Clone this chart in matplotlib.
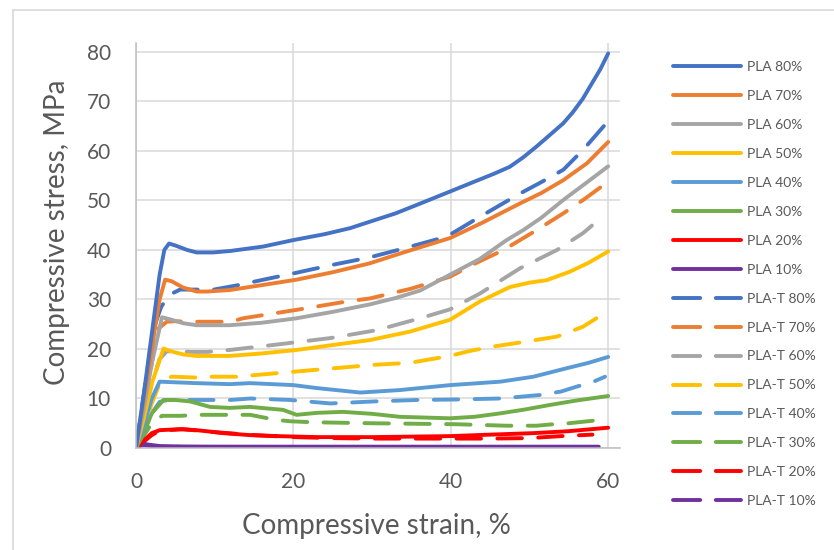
import numpy as np
import matplotlib
matplotlib.use("Agg")
import matplotlib.pyplot as plt
from matplotlib.lines import Line2D

plt.rcParams['font.family'] = ['Lato', 'DejaVu Sans']

# 应变 / 应力 曲线数据
pla80_x = [0, 1.0, 2.0, 3.0, 3.6, 4.2, 5.0, 6.5, 7.7, 9.8, 12, 16.2, 20, 24, 27.2, 29.7, 33, 36, 39.9, 43, 45.5, 47.5, 49.2, 50.9, 52.5, 54.3, 55.5, 56.8, 57.5, 59, 60]
pla80_y = [0, 11, 23, 35, 40, 41.3, 40.9, 40.0, 39.5, 39.5, 39.8, 40.7, 42, 43.2, 44.4, 45.7, 47.4, 49.3, 51.8, 53.8, 55.4, 56.8, 58.7, 60.9, 63.1, 65.6, 67.8, 70.6, 72.5, 76.5, 79.7]
pla70_x = [0, 1.0, 2.0, 3.0, 3.7, 4.5, 6, 7.7, 9, 11.9, 16, 20.4, 25, 29.7, 34, 39.9, 44, 48.8, 51.5, 54.3, 57.3, 60]
pla70_y = [0, 10, 20, 30, 34, 33.7, 32.4, 31.6, 31.6, 31.9, 32.9, 34, 35.5, 37.3, 39.5, 42.4, 45.5, 49.4, 51.5, 54.1, 57.5, 61.8]
pla60_x = [0, 1.0, 2.0, 3.3, 4.3, 6, 7.7, 11.9, 16, 20.4, 25, 29.7, 33, 36.1, 39.9, 43.7, 47.1, 49.2, 51.5, 54.3, 57, 60]
pla60_y = [0, 8, 17, 26.4, 26.0, 25.2, 24.8, 24.8, 25.3, 26.2, 27.5, 29.0, 30.3, 31.8, 35, 38.2, 42, 44, 46.5, 50.1, 53.3, 56.9]
pla50_x = [0, 1.0, 2.0, 3.5, 4.5, 6, 7.7, 11.9, 16, 20.4, 25, 29.7, 34.8, 39.9, 43.7, 47.5, 50, 52.2, 55.1, 57.5, 60]
pla50_y = [0, 6, 13, 20.1, 19.5, 18.9, 18.6, 18.6, 19.1, 19.8, 20.8, 21.8, 23.5, 25.9, 29.6, 32.5, 33.4, 33.9, 35.6, 37.4, 39.7]
pla40_x = [0, 1.0, 2.0, 3.0, 4.5, 7.7, 11.9, 14.5, 20, 23, 28.5, 33.5, 39.9, 46.3, 50.5, 54.7, 57.5, 60]
pla40_y = [0, 4.5, 10, 13.4, 13.3, 13.1, 12.9, 13.1, 12.7, 12.1, 11.2, 11.7, 12.7, 13.4, 14.4, 16.1, 17.2, 18.4]
pla30_x = [0, 1.0, 2.0, 3.5, 5, 6.9, 9.4, 11.9, 14.5, 18.7, 20.4, 23, 26.3, 30, 33.5, 39.9, 43, 46.3, 49.5, 52.6, 56, 60]
pla30_y = [0, 3, 7, 9.7, 9.7, 9.4, 8.3, 8.1, 8.3, 7.7, 6.7, 7.1, 7.3, 6.9, 6.3, 6.0, 6.3, 7.0, 7.8, 8.7, 9.6, 10.5]
pla20_x = [0, 1.0, 2.0, 3.0, 5.6, 7.7, 9.5, 11.1, 14.5, 18, 23, 30, 39.9, 45, 50.5, 55, 60]
pla20_y = [0, 1.5, 3.0, 3.6, 3.8, 3.6, 3.3, 3.0, 2.6, 2.4, 2.2, 2.2, 2.4, 2.7, 3.0, 3.4, 4.1]
pla10_x = [0, 0.5, 0.9, 1.5, 3, 6, 10, 20, 30, 40, 50, 58.8]
pla10_y = [0, 0.6, 0.9, 0.7, 0.4, 0.3, 0.28, 0.27, 0.27, 0.27, 0.27, 0.27]

plat80_x = [0, 1.0, 2.2, 3.2, 4.2, 5.6, 7, 9.9, 13, 16.2, 20.4, 22.1, 25, 29.7, 34, 39.5, 43.7, 48.8, 51.5, 54.3, 56.8, 59.6]
plat80_y = [0, 11, 24, 28.5, 30.9, 32.0, 32.0, 32.0, 32.9, 34, 35.4, 36.0, 37, 38.5, 40.3, 42.7, 46.7, 51.4, 53.7, 56.2, 60.2, 65.3]
plat70_x = [0, 1.0, 2.0, 2.6, 3.9, 5, 7, 12, 13.6, 20.4, 26.8, 29.7, 35, 39.9, 43, 46.7, 50.9, 54.3, 57, 60]
plat70_y = [0, 8, 17, 23.8, 25.5, 25.6, 25.5, 25.5, 26.2, 27.9, 29.6, 30.2, 32.2, 34.6, 37.2, 40, 44, 47.4, 50.3, 53.8]
plat60_x = [0, 1.0, 2.0, 3.0, 3.9, 5, 7, 9, 11.9, 17.4, 24.7, 30.6, 36.1, 39.9, 43.7, 48.8, 53.5, 56.8, 59.4]
plat60_y = [0, 6, 13, 18, 19.5, 19.6, 19.4, 19.4, 19.8, 20.8, 22.2, 23.8, 26.2, 28.0, 31.2, 36.3, 40, 43.4, 46.9]
plat50_x = [0, 1.0, 2.0, 3.0, 4.5, 8.1, 9.6, 12.7, 14.9, 20, 25.1, 30.2, 34.8, 39.9, 42.4, 45.4, 49.6, 53.5, 56.8, 59.8]
plat50_y = [0, 4, 9, 13, 14.4, 14.2, 14.4, 14.4, 14.7, 15.4, 16.1, 16.8, 17.2, 18.6, 19.6, 20.5, 21.5, 22.5, 24.5, 27.5]
plat40_x = [0, 1.0, 2.0, 3.0, 4.0, 8, 12, 14.5, 19.6, 24.7, 30.2, 35.7, 40.7, 46.3, 51.3, 54, 56, 58, 59.6]
plat40_y = [0, 3, 7, 9.3, 9.7, 9.7, 9.7, 10, 9.7, 9.0, 9.4, 9.7, 9.8, 10.0, 10.7, 11.4, 12.4, 13.3, 14.4]
plat30_x = [0, 1.0, 2.0, 3.3, 5.6, 8.5, 12.3, 14.5, 17.7, 19.6, 22.4, 30, 40.7, 47.1, 50.9, 53, 55, 58, 60]
plat30_y = [0, 2.5, 5, 6.5, 6.5, 6.7, 6.7, 6.7, 5.7, 5.4, 5.2, 5.0, 4.8, 4.5, 4.5, 4.8, 5.0, 5.5, 6.1]
plat20_x = [0, 1.0, 2.0, 3.0, 6, 10, 15, 20, 25, 30, 35, 40, 45, 50, 54, 58]
plat20_y = [0, 1.3, 2.6, 3.5, 3.8, 3.2, 2.6, 2.2, 2.0, 1.9, 1.9, 1.9, 1.9, 2.0, 2.4, 2.7]
plat10_x = [0, 0.5, 1.0, 2, 4, 10, 20, 30, 40, 50, 58]
plat10_y = [0, 0.4, 0.6, 0.4, 0.25, 0.2, 0.2, 0.2, 0.2, 0.2, 0.2]

labels = ["PLA 80%", "PLA 70%", "PLA 60%", "PLA 50%", "PLA 40%", "PLA 30%", "PLA 20%", "PLA 10%",
          "PLA-T 80%", "PLA-T 70%", "PLA-T 60%", "PLA-T 50%", "PLA-T 40%", "PLA-T 30%", "PLA-T 20%", "PLA-T 10%"]
series = [(pla80_x, pla80_y), (pla70_x, pla70_y), (pla60_x, pla60_y), (pla50_x, pla50_y),
          (pla40_x, pla40_y), (pla30_x, pla30_y), (pla20_x, pla20_y), (pla10_x, pla10_y),
          (plat80_x, plat80_y), (plat70_x, plat70_y), (plat60_x, plat60_y), (plat50_x, plat50_y),
          (plat40_x, plat40_y), (plat30_x, plat30_y), (plat20_x, plat20_y), (plat10_x, plat10_y)]

# Excel Office 默认配色
colors = ['#4472C4', '#ED7D31', '#A5A5A5', '#FFC000', '#5B9BD5', '#70AD47', '#FF0000', '#7030A0']
txt_color = '#595959'
lw = 2.8
dash = (6.3, 4.2)

fig = plt.figure(figsize=(8.34, 5.5), dpi=100)
ax = fig.add_axes([136 / 834, 1 - 448 / 550, 484 / 834, 405 / 550])

# 先画虚线，再画实线（倒序，使高含量曲线在上层）
order = list(range(15, 7, -1)) + list(range(7, -1, -1))
for i in order:
    xs, ys = series[i]
    c = colors[i % 8]
    if i >= 8:
        ax.plot(xs, ys, color=c, lw=lw, dashes=dash, dash_capstyle='round',
                solid_capstyle='round', solid_joinstyle='round')
    else:
        ax.plot(xs, ys, color=c, lw=lw, solid_capstyle='round', solid_joinstyle='round')

ax.set_xlim(0, 61.5)
ax.set_ylim(0, 81.8)
ax.set_xticks([0, 20, 40, 60])
ax.set_yticks(np.arange(0, 81, 10))
ax.grid(True, color='#D9D9D9', lw=1.1)
ax.set_axisbelow(True)
for s in ['top', 'right']:
    ax.spines[s].set_visible(False)
for s in ['left', 'bottom']:
    ax.spines[s].set_color('#BFBFBF')
    ax.spines[s].set_linewidth(1.1)
ax.tick_params(length=0, labelsize=15, colors=txt_color)
ax.tick_params(axis='y', pad=18)
ax.tick_params(axis='x', pad=17)

# 坐标轴标题：用图像坐标定位中心
ax.set_xlabel("Compressive strain, %", fontsize=20, color=txt_color, va='center')
ax.set_ylabel("Compressive stress, MPa", fontsize=20, color=txt_color, va='center')
ax.xaxis.set_label_coords(376 / 834, 1 - 526 / 550, transform=fig.transFigure)
ax.yaxis.set_label_coords(57 / 834, 1 - 232 / 550, transform=fig.transFigure)

# 图例（代理句柄）
handles = []
for i in range(16):
    if i >= 8:
        h = Line2D([], [], color=colors[i % 8], lw=lw, dashes=(7.0, 4.0), dash_capstyle='round')
    else:
        h = Line2D([], [], color=colors[i % 8], lw=lw, solid_capstyle='round')
    handles.append(h)
leg = fig.legend(handles, labels, loc='upper left', bbox_to_anchor=(673 / 834, 1 - 61 / 550),
                 frameon=False, fontsize=10, handlelength=4.9, handletextpad=0.45,
                 labelspacing=1.22, borderaxespad=0, borderpad=0)
for t in leg.get_texts():
    t.set_color(txt_color)

# 图表外框（只见左边和上边）
fig.add_artist(Line2D([13 / 834, 13 / 834], [0, 1 - 10 / 550], transform=fig.transFigure, color='#D9D9D9', lw=1.2))
fig.add_artist(Line2D([13 / 834, 1], [1 - 10 / 550, 1 - 10 / 550], transform=fig.transFigure, color='#D9D9D9', lw=1.2))

fig.savefig("out.png", dpi=100)
